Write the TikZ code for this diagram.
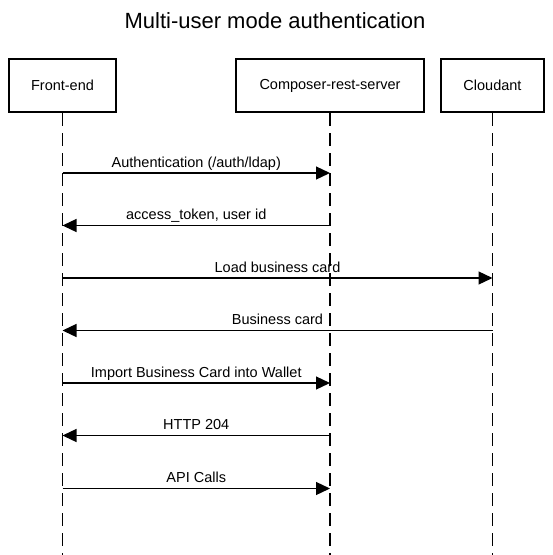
\documentclass[tikz,border=0pt]{standalone}
\usepackage{fontspec}
\setmainfont{Liberation Sans}
\usepackage{xcolor}
\usepackage{tikz}
\usetikzlibrary{arrows.meta,positioning}
\definecolor{ink}{HTML}{000000}
\tikzset{
  actor/.style={draw=ink, line width=2.6pt, fill=white, minimum height=53pt, inner sep=0pt, font=\fontsize{14.5}{17}\selectfont},
  life/.style={draw=ink, line width=1.3pt, dash pattern=on 13pt off 7pt},
  msg/.style={draw=ink, line width=1.3pt, -{Triangle[length=14pt, width=13pt]}},
  msglab/.style={text=ink, anchor=base, yshift=6pt, inner sep=0pt, font=\fontsize{14.5}{17}\selectfont},
  ttl/.style={text=ink, font=\fontsize{22}{26}\selectfont},
}
\begin{document}
\begin{tikzpicture}[x=1pt, y=-1pt]
\useasboundingbox (0,0) rectangle (553,555);
\node[ttl] (title) at (275,21) {Multi-user mode authentication};

% participants
\node[actor, minimum width=107pt] (fe) at (62.5,85.5) {Front-end};
\node[actor, minimum width=188pt] (cs) at (330,85.5) {Composer-rest-server};
\node[actor, minimum width=103pt] (cl) at (492.5,85.5) {Cloudant};

% lifelines
\foreach \p in {fe,cs,cl}{
  \coordinate (\p-end) at (\p |- 0,556);
  \draw[life] (\p.south) -- (\p-end);
}

% messages
\foreach \y/\a/\b/\t in {173/fe/cs/{Authentication (/auth/ldap)},
                          225.5/cs/fe/{access\_token, user id},
                          278/fe/cl/{Load business card},
                          330.5/cl/fe/{Business card},
                          383/fe/cs/{Import Business Card into Wallet},
                          435.5/cs/fe/{HTTP 204},
                          488.5/fe/cs/{API Calls}}{
  \draw[msg] (\a |- 0,\y) -- node[msglab] {\t} (\b |- 0,\y);
}
\end{tikzpicture}
\end{document}
